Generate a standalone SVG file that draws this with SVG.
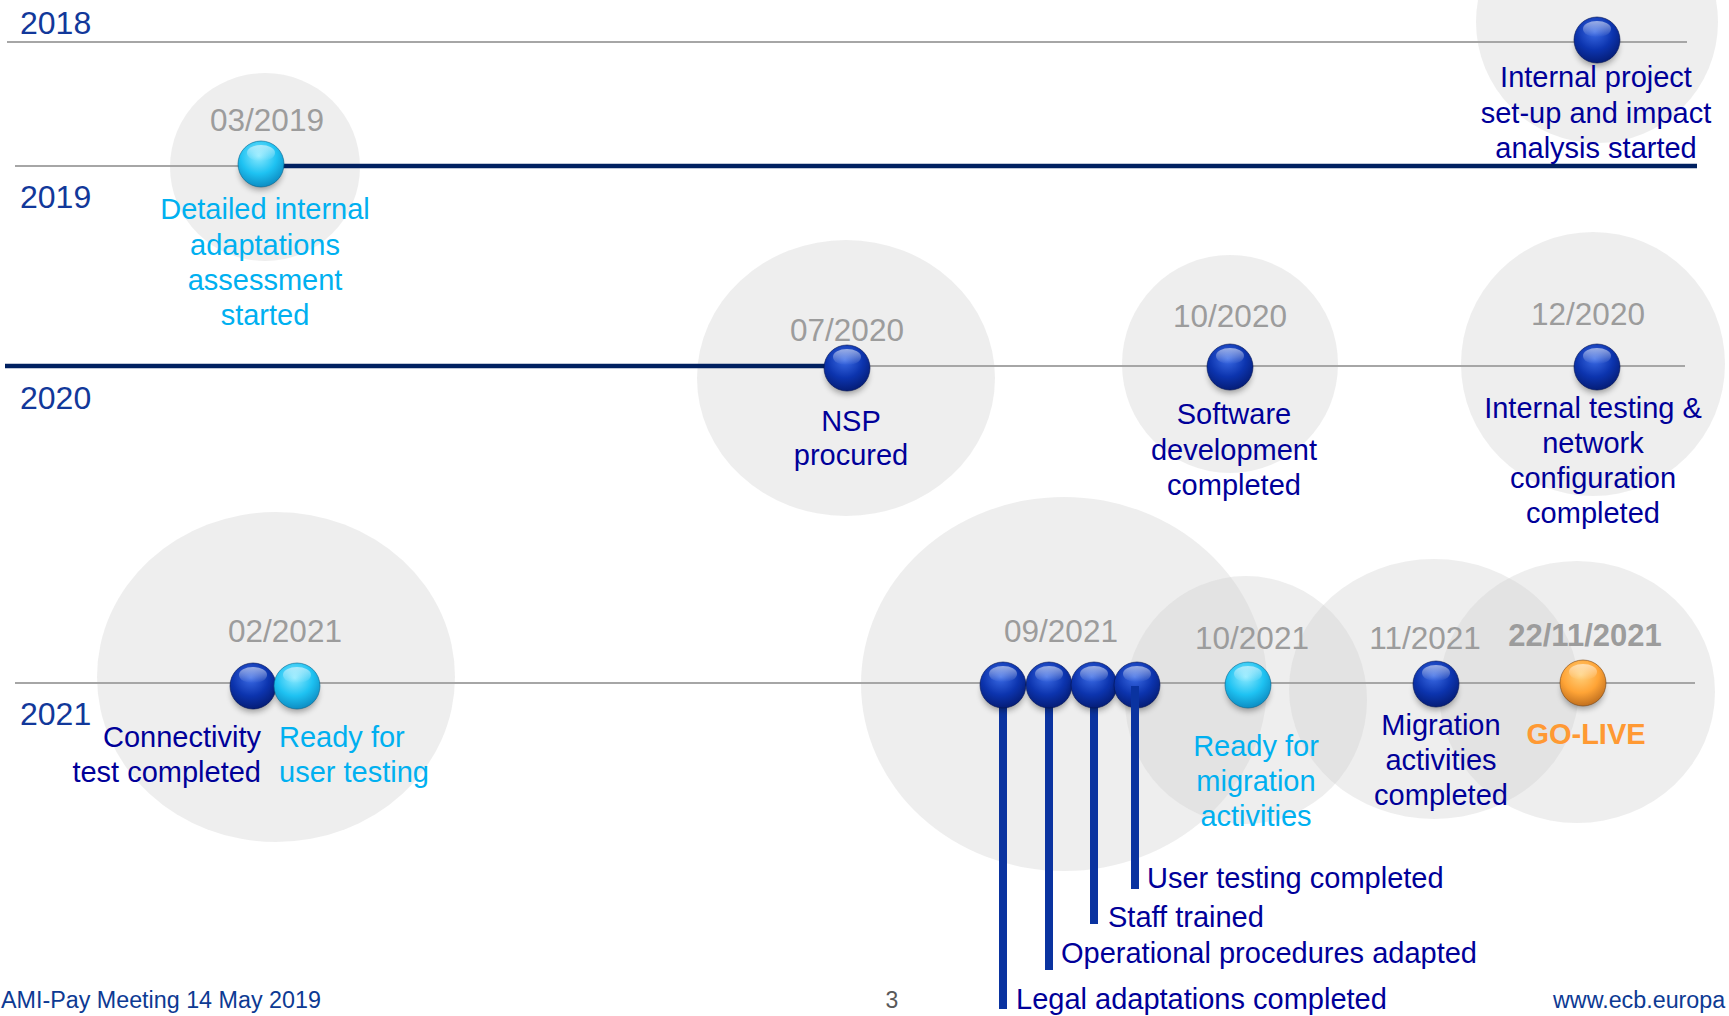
<svg xmlns="http://www.w3.org/2000/svg" xmlns:xlink="http://www.w3.org/1999/xlink" width="1729" height="1016" viewBox="0 0 1729 1016">
<style>
text{font-family:"Liberation Sans",Arial,sans-serif;}
.yr{font-size:32px;fill:#12389a;}
.dt{font-size:31.5px;fill:#9c9c9c;text-anchor:middle;}
.dtb{font-size:31px;fill:#9c9c9c;text-anchor:middle;font-weight:bold;}
.lb{font-size:29px;fill:#000099;text-anchor:middle;}
.lbl{font-size:29px;fill:#00b0f0;text-anchor:middle;}
.lbs{font-size:29px;fill:#00b0f0;text-anchor:start;}
.st{font-size:29px;fill:#000099;text-anchor:start;}
.se{font-size:29px;fill:#000099;text-anchor:end;}
.gl{font-size:29px;fill:#ff9933;text-anchor:middle;font-weight:bold;}
.ft{font-size:23.3px;fill:#0d3a93;}
.halo{fill:#cfcfcf;opacity:0.36;}
.thin{stroke:#a6a6a6;stroke-width:2;fill:none;}
.thick{stroke:#002060;stroke-width:4.5;fill:none;}
.stem{stroke:#0a33a0;stroke-width:8;fill:none;}
</style>
<defs>
<radialGradient id="gd" cx="0.45" cy="0.32" r="0.72">
<stop offset="0" stop-color="#3c6ce6"/>
<stop offset="0.55" stop-color="#0c34ae"/>
<stop offset="1" stop-color="#041a70"/>
</radialGradient>
<radialGradient id="gc" cx="0.45" cy="0.32" r="0.72">
<stop offset="0" stop-color="#8ceaff"/>
<stop offset="0.55" stop-color="#1ec2f2"/>
<stop offset="1" stop-color="#0b86bd"/>
</radialGradient>
<radialGradient id="go" cx="0.45" cy="0.32" r="0.72">
<stop offset="0" stop-color="#ffd27e"/>
<stop offset="0.55" stop-color="#ffa436"/>
<stop offset="1" stop-color="#b9691c"/>
</radialGradient>
<linearGradient id="hl" x1="0" y1="0" x2="0" y2="1">
<stop offset="0" stop-color="#ffffff" stop-opacity="0.55"/>
<stop offset="1" stop-color="#ffffff" stop-opacity="0"/>
</linearGradient>
<filter id="blur" x="-50%" y="-50%" width="200%" height="200%"><feGaussianBlur stdDeviation="3"/></filter>
<g id="bD">
<ellipse cx="0" cy="7" rx="21" ry="19" fill="#000" opacity="0.35" filter="url(#blur)"/>
<circle cx="0" cy="0" r="23" fill="url(#gd)" stroke="#021254" stroke-opacity="0.6" stroke-width="1"/>
<ellipse cx="0" cy="-11" rx="14" ry="8" fill="url(#hl)"/>
</g>
<g id="bC">
<ellipse cx="0" cy="7" rx="21" ry="19" fill="#000" opacity="0.35" filter="url(#blur)"/>
<circle cx="0" cy="0" r="23" fill="url(#gc)" stroke="#07648e" stroke-opacity="0.6" stroke-width="1"/>
<ellipse cx="0" cy="-11" rx="14" ry="8" fill="url(#hl)"/>
</g>
<g id="bO">
<ellipse cx="0" cy="7" rx="21" ry="19" fill="#000" opacity="0.35" filter="url(#blur)"/>
<circle cx="0" cy="0" r="23" fill="url(#go)" stroke="#7a4410" stroke-opacity="0.6" stroke-width="1"/>
<ellipse cx="0" cy="-11" rx="14" ry="8" fill="url(#hl)"/>
</g>
</defs>
<rect width="1729" height="1016" fill="#ffffff"/>

<!-- halos -->
<g id="halos">
<circle class="halo" cx="1597" cy="22" r="121"/>
<ellipse class="halo" cx="265" cy="167" rx="95" ry="94"/>
<ellipse class="halo" cx="846" cy="378" rx="149" ry="138"/>
<ellipse class="halo" cx="1230" cy="364" rx="108" ry="109"/>
<ellipse class="halo" cx="1593" cy="364" rx="132" ry="132"/>
<ellipse class="halo" cx="276" cy="677" rx="179" ry="165"/>
<ellipse class="halo" cx="1064" cy="684" rx="203" ry="187"/>
<ellipse class="halo" cx="1246" cy="700" rx="121" ry="124"/>
<ellipse class="halo" cx="1434" cy="689" rx="145" ry="130"/>
<ellipse class="halo" cx="1577" cy="692" rx="138" ry="131"/>
</g>

<!-- year labels -->
<g id="years">
<text class="yr" x="20" y="34">2018</text>
<text class="yr" x="20" y="208">2019</text>
<text class="yr" x="20" y="409">2020</text>
<text class="yr" x="20" y="725">2021</text>
</g>

<!-- connectors -->
<g id="connectors">
<line class="thin" x1="7" y1="42" x2="1687" y2="42"/>
<line class="thin" x1="15" y1="166" x2="261" y2="166"/>
<line class="thick" x1="261" y1="166" x2="1697" y2="166"/>
<line class="thick" x1="5" y1="366" x2="847" y2="366"/>
<line class="thin" x1="847" y1="366" x2="1685" y2="366"/>
<line class="thin" x1="15" y1="683" x2="1695" y2="683"/>
<line class="stem" x1="1003" y1="700" x2="1003" y2="1009"/>
<line class="stem" x1="1049" y1="700" x2="1049" y2="970"/>
<line class="stem" x1="1094" y1="700" x2="1094" y2="924"/>
</g>

<g id="n2018">
<use xlink:href="#bD" x="1597" y="40"/>
<text class="lb" x="1596" y="87">Internal project</text>
<text class="lb" x="1596" y="123">set-up and impact</text>
<text class="lb" x="1596" y="158">analysis started</text>
</g>

<g id="n032019">
<use xlink:href="#bC" x="261" y="164"/>
<text class="dt" x="267" y="131">03/2019</text>
<text class="lbl" x="265" y="219">Detailed internal</text>
<text class="lbl" x="265" y="255">adaptations</text>
<text class="lbl" x="265" y="290">assessment</text>
<text class="lbl" x="265" y="325">started</text>
</g>

<g id="n072020">
<use xlink:href="#bD" x="847" y="368"/>
<text class="dt" x="847" y="341">07/2020</text>
<text class="lb" x="851" y="431">NSP</text>
<text class="lb" x="851" y="465">procured</text>
</g>

<g id="n102020">
<use xlink:href="#bD" x="1230" y="367"/>
<text class="dt" x="1230" y="327">10/2020</text>
<text class="lb" x="1234" y="424">Software</text>
<text class="lb" x="1234" y="460">development</text>
<text class="lb" x="1234" y="495">completed</text>
</g>

<g id="n122020">
<use xlink:href="#bD" x="1597" y="367"/>
<text class="dt" x="1588" y="325">12/2020</text>
<text class="lb" x="1593" y="418">Internal testing &amp;</text>
<text class="lb" x="1593" y="453">network</text>
<text class="lb" x="1593" y="488">configuration</text>
<text class="lb" x="1593" y="523">completed</text>
</g>

<g id="n022021">
<use xlink:href="#bD" x="253" y="686"/>
<use xlink:href="#bC" x="297" y="686"/>
<text class="dt" x="285" y="642">02/2021</text>
<text class="se" x="261" y="747">Connectivity</text>
<text class="se" x="261" y="782">test completed</text>
<text class="lbs" x="279" y="747">Ready for</text>
<text class="lbs" x="279" y="782">user testing</text>
</g>

<g id="n092021">
<use xlink:href="#bD" x="1003" y="685"/>
<use xlink:href="#bD" x="1049" y="685"/>
<use xlink:href="#bD" x="1094" y="685"/>
<use xlink:href="#bD" x="1137" y="685"/>
<line class="stem" x1="1135" y1="686" x2="1135" y2="889"/>
<text class="dt" x="1061" y="642">09/2021</text>
<text class="st" x="1147" y="888">User testing completed</text>
<text class="st" x="1108" y="927">Staff trained</text>
<text class="st" x="1061" y="963">Operational procedures adapted</text>
<text class="st" x="1016" y="1009">Legal adaptations completed</text>
</g>

<g id="n102021">
<use xlink:href="#bC" x="1248" y="685"/>
<text class="dt" x="1252" y="649">10/2021</text>
<text class="lbl" x="1256" y="756">Ready for</text>
<text class="lbl" x="1256" y="791">migration</text>
<text class="lbl" x="1256" y="826">activities</text>
</g>

<g id="n112021">
<use xlink:href="#bD" x="1436" y="684"/>
<text class="dt" x="1425" y="649">11/2021</text>
<text class="lb" x="1441" y="735">Migration</text>
<text class="lb" x="1441" y="770">activities</text>
<text class="lb" x="1441" y="805">completed</text>
</g>

<g id="ngolive">
<use xlink:href="#bO" x="1583" y="683"/>
<text class="dtb" x="1585" y="646">22/11/2021</text>
<text class="gl" x="1586" y="744">GO-LIVE</text>
</g>

<g id="footer">
<text class="ft" x="1" y="1008">AMI-Pay Meeting 14 May 2019</text>
<text x="892" y="1008" font-size="23" fill="#595959" text-anchor="middle" font-family="Liberation Sans, Arial, sans-serif">3</text>
<text class="ft" x="1553" y="1008">www.ecb.europa</text>
</g>
</svg>
